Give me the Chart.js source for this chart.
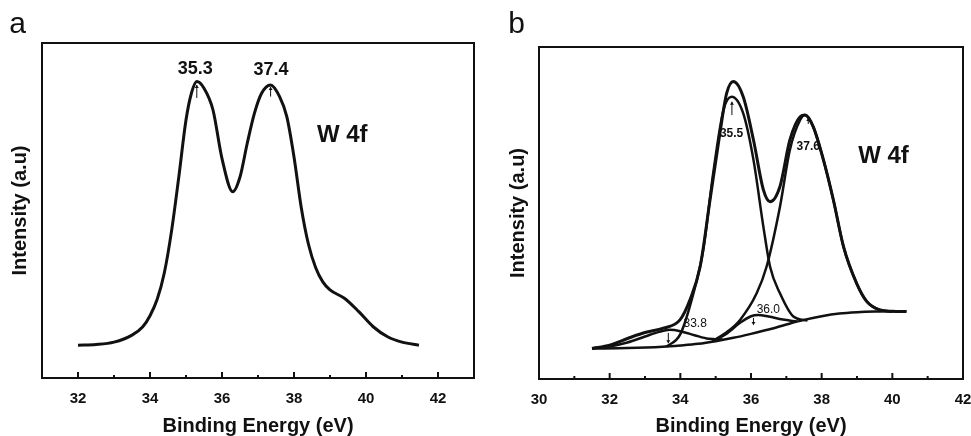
<!DOCTYPE html>
<html><head><meta charset="utf-8">
<script src="https://cdn.jsdelivr.net/npm/chart.js@4.4.1/dist/chart.umd.min.js"></script>
<style>
html,body{margin:0;padding:0;background:#fff;overflow:hidden;width:971px;height:436px;position:relative;}
#ca{position:absolute;left:0;top:0;}
#cb{position:absolute;left:480px;top:0;}
</style></head><body>
<canvas id="ca" width="500" height="436"></canvas>
<canvas id="cb" width="511" height="436"></canvas>
<script>
// ---------- Panel a data ----------
const aX = [32.0,32.5,33.0,33.5,33.8,34.0,34.2,34.4,34.6,34.8,35.0,35.15,35.3,35.5,35.75,36.0,36.3,36.5,36.7,36.9,37.1,37.35,37.6,37.8,38.0,38.2,38.4,38.6,38.8,39.0,39.4,39.8,40.2,40.6,41.0,41.47];
const aY = [9.8,10.0,10.7,12.8,15.3,18.6,23.5,31.5,44,60,77,85,88.5,86.5,80,65.5,55.6,60,70,79,85,87.5,84,78,66,51,40,33,28.7,26.3,23.8,19.8,15.3,12.3,10.7,9.8];

// ---------- Panel b data ----------
const bEnvX = [31.5,32.0,32.58,33.0,33.52,33.99,34.27,34.56,34.84,35.12,35.31,35.5,35.78,36.07,36.35,36.54,36.82,37.1,37.39,37.53,37.76,38.05,38.33,38.62,38.99,39.28,39.65,40.0,40.4];
const bEnvY = [9.2,10.2,12.5,14.0,15.3,17.8,23.8,33.8,53.9,74,86,89.6,85,72,57,53.4,58,72,79,79.5,76,66,54,39.8,28.8,23.3,20.8,20.4,20.3];
const bP1X = [33.6,34.0,34.37,34.65,34.93,35.22,35.45,35.78,36.07,36.35,36.54,36.82,37.2,37.6];
const bP1Y = [9.7,13.5,25.8,39,62,81,85,80,66,45.9,33.8,25.8,18.8,17.6];
const bP2X = [34.93,35.3,35.69,36.16,36.44,36.82,37.1,37.39,37.53,37.76,38.05,38.33,38.62,38.99,39.28,39.65,40.0];
const bP2Y = [11.6,14.0,17.8,25.8,33.8,51.9,69,78,79.5,76,66,54,39.8,28.8,23.3,20.8,20.3];
const bB1X = [31.5,32.0,32.5,33.0,33.4,33.7,34.0,34.4,34.8,35.2];
const bB1Y = [9.2,9.8,11.0,12.8,14.2,14.8,14.4,13.2,12.1,11.9];
const bB2X = [34.9,35.3,35.7,36.0,36.2,36.5,36.9,37.3];
const bB2Y = [11.3,13.6,17.0,18.9,19.3,18.8,17.9,17.3];
const bBaseX = [31.5,32.5,33.5,34.0,34.5,35.0,35.5,36.0,36.5,37.0,37.5,38.0,38.5,39.0,39.5,40.4];
const bBaseY = [9.2,9.3,9.7,10.1,10.6,11.4,12.4,13.6,14.9,16.4,17.8,18.9,19.7,20.1,20.3,20.4];

// ---------- text ----------
const xTitle = 'Binding Energy (eV)';
const yTitle = 'Intensity (a.u)';
const aLabels = [{t:'35.3',x:35.26,y:92.3,s:18,w:'bold'},{t:'37.4',x:37.36,y:92.0,s:18,w:'bold'},{t:'W 4f',x:39.34,y:72.5,s:24,w:'bold'}];
const aArrows = [{x:35.3,y1:83.6,y2:87.5,dir:'up'},{x:37.35,y1:84.0,y2:86.9,dir:'up'}];
const bLabels = [{t:'35.5',x:35.45,y:74,s:12,w:'bold'},{t:'37.6',x:37.62,y:70,s:12,w:'bold'},{t:'36.0',x:36.49,y:20.8,s:12,w:'normal'},{t:'33.8',x:34.42,y:16.6,s:12,w:'normal'},{t:'W 4f',x:39.75,y:67,s:24,w:'bold'}];
const bArrows = [{x:35.46,y1:79.5,y2:83.5,dir:'up'},{x:37.62,y1:76.8,y2:78.6,dir:'up'},{x:36.07,y1:16.3,y2:18.4,dir:'down'},{x:33.66,y1:10.8,y2:13.9,dir:'down'}];

const FONT = '"Liberation Sans", Arial, Helvetica, sans-serif';
Chart.defaults.font.family = FONT;
const INK = '#111';

function pts(xs, ys){ return xs.map((x,i)=>({x:x, y:ys[i]})); }
function ds(xs, ys, w){ return {data:pts(xs,ys), showLine:true, borderColor:INK, borderWidth:w, pointRadius:0, fill:false, cubicInterpolationMode:'monotone'}; }

function panelPlugin(id, letter, letterDx, labels, arrows){
  return {
    id: id,
    afterDraw(chart){
      const ctx = chart.ctx, ca = chart.chartArea, xs = chart.scales.x, ys = chart.scales.y;
      ctx.save();
      ctx.strokeStyle = INK; ctx.fillStyle = INK;
      ctx.lineWidth = 2;
      ctx.strokeRect(ca.left, ca.top, ca.right-ca.left, ca.bottom-ca.top);
      for (let v = Math.ceil(xs.min); v <= Math.floor(xs.max); v++){
        if (v === xs.min || v === xs.max) continue;
        const px = xs.getPixelForValue(v);
        const len = (v % 2 === 0) ? 6 : 3;
        ctx.beginPath(); ctx.moveTo(px, ca.bottom); ctx.lineTo(px, ca.bottom - len); ctx.stroke();
      }
      ctx.font = '30px ' + FONT;
      ctx.textAlign = 'center'; ctx.textBaseline = 'alphabetic';
      ctx.fillText(letter, ca.left + letterDx, 33);
      ctx.textBaseline = 'middle';
      labels.forEach(l=>{
        ctx.font = l.w + ' ' + l.s + 'px ' + FONT;
        ctx.fillText(l.t, xs.getPixelForValue(l.x), ys.getPixelForValue(l.y));
      });
      ctx.lineWidth = 1;
      arrows.forEach(a=>{
        const px = xs.getPixelForValue(a.x), p1 = ys.getPixelForValue(a.y1), p2 = ys.getPixelForValue(a.y2);
        ctx.beginPath(); ctx.moveTo(px, p1); ctx.lineTo(px, p2); ctx.stroke();
        const tip = a.dir === 'up' ? p2 : p1, d = a.dir === 'up' ? 3 : -3;
        ctx.beginPath(); ctx.moveTo(px, tip); ctx.lineTo(px-2, tip+d); ctx.lineTo(px+2, tip+d); ctx.closePath(); ctx.fill();
      });
      ctx.restore();
    }
  };
}

function makeChart(el, datasets, xmin, xmax, yW, xH, yTitlePad, pad, plugin){
  return new Chart(el, {
    type: 'scatter',
    data: {datasets: datasets},
    options: {
      responsive:false, animation:false, events:[],
      layout:{padding:pad},
      plugins:{legend:{display:false}, tooltip:{enabled:false}},
      scales:{
        x:{type:'linear', min:xmin, max:xmax,
           grid:{display:false, drawTicks:false}, border:{display:false},
           ticks:{stepSize:1, autoSkip:false, maxRotation:0, minRotation:0, padding:12, color:INK,
                  font:{size:15, weight:'bold'},
                  callback:(v)=> (v % 2 === 0 ? String(v) : '')},
           title:{display:true, text:xTitle, color:INK, padding:0, font:{size:20, weight:'bold', lineHeight:1}},
           afterFit(s){ s.height = xH; }},
        y:{type:'linear', min:0, max:100,
           grid:{display:false, drawTicks:false}, border:{display:false},
           ticks:{display:false},
           title:{display:true, text:yTitle, color:INK, padding:{top:yTitlePad, bottom:0}, font:{size:20, weight:'bold', lineHeight:1}},
           afterFit(s){ s.width = yW; }}
      }
    },
    plugins:[plugin]
  });
}

makeChart(document.getElementById('ca'), [ds(aX, aY, 3)], 31, 43, 42, 58, 10,
  {left:0, top:43, right:26, bottom:0}, panelPlugin('pa','a',-24.5, aLabels, aArrows));

makeChart(document.getElementById('cb'),
  [ds(bBaseX,bBaseY,2.5), ds(bB1X,bB1Y,2.5), ds(bB2X,bB2Y,2.5), ds(bP1X,bP1Y,2.5), ds(bP2X,bP2Y,2.5), ds(bEnvX,bEnvY,3)],
  30, 42, 59, 57, 28,
  {left:0, top:47, right:28, bottom:0}, panelPlugin('pb','b',-22.5, bLabels, bArrows));
</script>
</body></html>
